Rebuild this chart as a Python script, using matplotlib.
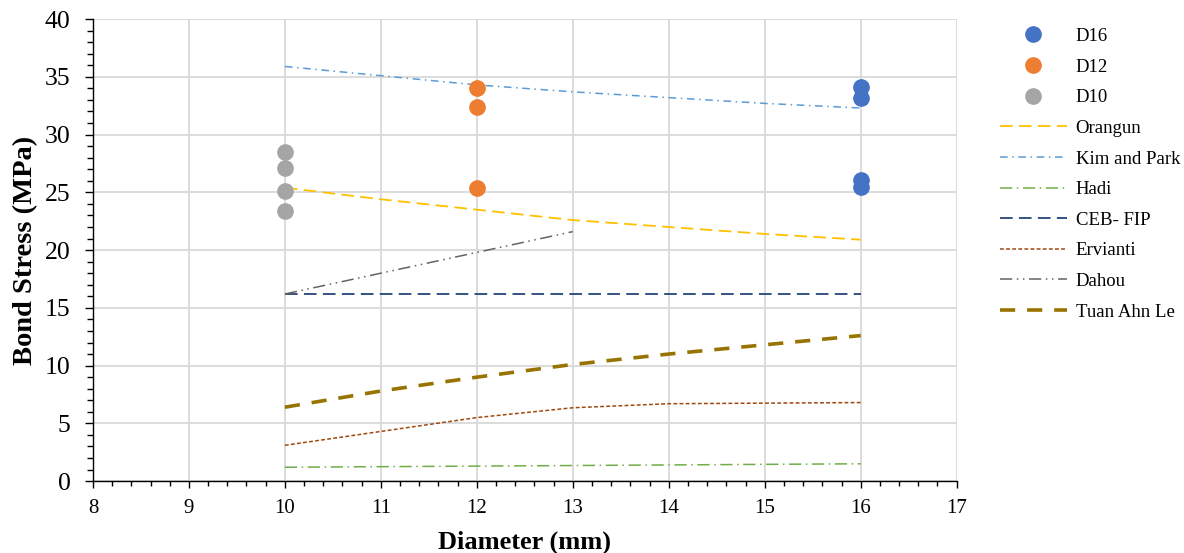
import numpy as np
import matplotlib.pyplot as plt
from matplotlib.ticker import MultipleLocator

plt.rcParams['font.family'] = ['Liberation Serif', 'DejaVu Serif']

# measured points
d16_x = [16, 16, 16, 16]
d16_y = [34.1, 33.2, 26.1, 25.5]
d12_x = [12, 12, 12]
d12_y = [34.0, 32.4, 25.4]
d10_x = [10, 10, 10, 10]
d10_y = [28.5, 27.1, 25.1, 23.4]

# model curves
dia = [10, 11, 12, 13, 14, 15, 16]
orangun = [25.4, 24.4, 23.5, 22.6, 22.0, 21.4, 20.9]
kimPark = [35.9, 35.1, 34.3, 33.7, 33.2, 32.7, 32.3]
hadi = [1.2, 1.25, 1.3, 1.35, 1.4, 1.45, 1.5]
cebFip = [16.2, 16.2, 16.2, 16.2, 16.2, 16.2, 16.2]
ervianti = [3.1, 4.3, 5.5, 6.35, 6.7, 6.75, 6.8]
dahou_x = [10, 11, 12, 13]
dahou = [16.2, 18.0, 19.8, 21.6]
tuanAhnLe = [6.4, 7.8, 9.0, 10.1, 11.0, 11.8, 12.6]

fig = plt.figure(figsize=(11.84, 5.53), dpi=100)
ax = fig.add_axes([0.0785, 0.130, 0.7295, 0.8355])

ax.plot(d16_x, d16_y, 'o', color='#4472C4', markersize=11, label='D16', zorder=5)
ax.plot(d12_x, d12_y, 'o', color='#ED7D31', markersize=11, label='D12', zorder=5)
ax.plot(d10_x, d10_y, 'o', color='#A5A5A5', markersize=11, label='D10', zorder=5)

ax.plot(dia, orangun, color='#FFC000', lw=1.3, dashes=(7, 3.5), label='Orangun')
ax.plot(dia, kimPark, color='#5B9BD5', lw=1.1, dashes=(5, 3, 1, 3), label='Kim and Park')
ax.plot(dia, hadi, color='#70AD47', lw=1.1, dashes=(8, 3, 1, 3), label='Hadi')
ax.plot(dia, cebFip, color='#264478', lw=1.3, dashes=(7, 3.5), label='CEB- FIP')
ax.plot(dia, ervianti, color='#9E480E', lw=1.1, dashes=(2.5, 1.5), label='Ervianti')
ax.plot(dahou_x, dahou, color='#636363', lw=1.1, dashes=(8, 3, 1, 3, 1, 3), label='Dahou')
ax.plot(dia, tuanAhnLe, color='#997300', lw=2.6, dashes=(4.2, 3.3), label='Tuan Ahn Le')

ax.set_xlim(8, 17)
ax.set_ylim(0, 40)
ax.xaxis.set_major_locator(MultipleLocator(1))
ax.xaxis.set_minor_locator(MultipleLocator(0.2))
ax.yaxis.set_major_locator(MultipleLocator(5))
ax.yaxis.set_minor_locator(MultipleLocator(1))
ax.grid(True, which='major', color='#D9D9D9', lw=1.3)
ax.set_axisbelow(True)
ax.tick_params(axis='x', which='major', direction='out', length=5, width=1, labelsize=15, pad=8)
ax.tick_params(axis='x', which='minor', direction='out', length=3.5, width=1)
ax.tick_params(axis='y', which='major', direction='out', length=6, width=1, labelsize=18.5, pad=10)
ax.tick_params(axis='y', which='minor', direction='out', length=4.5, width=1)
for s in ['top', 'right']:
    ax.spines[s].set_visible(False)
ax.spines['left'].set_linewidth(1)
ax.spines['bottom'].set_linewidth(1)

ax.set_xlabel('Diameter (mm)', fontsize=19, fontweight='bold', labelpad=9)
ax.set_ylabel('Bond Stress (MPa)', fontsize=20.5, fontweight='bold', labelpad=5)

leg = ax.legend(loc='upper left', bbox_to_anchor=(0.830, 0.98),
                bbox_transform=fig.transFigure, frameon=False, fontsize=13.5,
                handlelength=3.6, labelspacing=0.72, handletextpad=0.45)

fig.savefig('out.png', dpi=100)
